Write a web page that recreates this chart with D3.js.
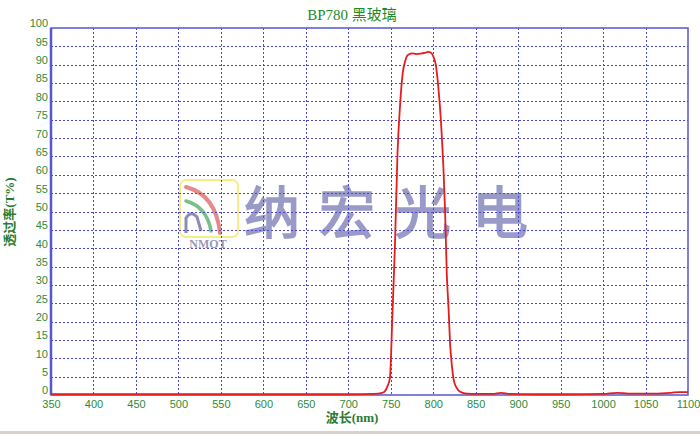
<!DOCTYPE html>
<html><head><meta charset="utf-8">
<script src="https://cdn.jsdelivr.net/npm/d3@7/dist/d3.min.js"></script>
<style>html,body{margin:0;padding:0;background:#fff;}svg{display:block;}</style>
</head><body>
<script>
const wavelengths = [350,400,450,500,550,600,650,700,730,740,743,746,749,752,755,758,761,764,767,770,775,780,785,790,794,797,800,803,806,809,812,814,816,818,820,822,824,827,830,835,840,850,870,880,890,920,960,1000,1016,1030,1060,1080,1090,1100];
const transmission = [0.2,0.2,0.2,0.2,0.2,0.2,0.2,0.2,0.3,0.6,1.0,2.3,4.6,22,41,66,79,87.5,91,92.6,93.1,92.9,93.0,93.2,93.5,93.3,92.3,90,84,75,62,50,33,24,13.6,8,4.3,2.2,1.2,0.6,0.4,0.3,0.3,0.6,0.3,0.2,0.2,0.3,0.6,0.4,0.4,0.6,0.8,0.8];
const xTicks = [350,400,450,500,550,600,650,700,750,800,850,900,950,1000,1050,1100];
const yTicks = [0,5,10,15,20,25,30,35,40,45,50,55,60,65,70,75,80,85,90,95,100];
const titleText = "BP780 黑玻璃";
const xLabel = "波长(nm)";
const yLabel = "透过率(T%)";
const wmChars = ["纳","宏","光","电"];

const W = 700, H = 434;
const m = {l:51, r:688, t:28, b:395};
const svg = d3.select("body").append("svg").attr("width", W).attr("height", H);
const x = d3.scaleLinear().domain([350,1100]).range([m.l, m.r]);
const y = d3.scaleLinear().domain([0,100]).range([m.b, m.t]);
const green = "#2f8a3a";
const blue = "#5656d2";

svg.append("rect").attr("x",0).attr("y",431).attr("width",W).attr("height",3).attr("fill","#d6d3ce");

// watermark
const wm = svg.append("g");
wm.append("rect").attr("x",180).attr("y",180).attr("width",58).attr("height",57).attr("rx",6)
  .attr("fill","none").attr("stroke","#f4ee86").attr("stroke-width",2);
wm.append("path").attr("d","M186,187 Q216,195 220,233").attr("fill","none").attr("stroke","#e58a8a").attr("stroke-width",4).attr("stroke-linecap","round");
wm.append("path").attr("d","M186,201 Q207,207 211,231").attr("fill","none").attr("stroke","#78c08a").attr("stroke-width",3.5).attr("stroke-linecap","round");
wm.append("path").attr("d","M186,233 L186,218 Q191,210 197,217 L201,231").attr("fill","none").attr("stroke","#8c8cb8").attr("stroke-width",3);
wm.append("text").attr("x",208).attr("y",248).attr("text-anchor","middle")
  .attr("font-family","Liberation Serif").attr("font-weight","bold").attr("font-size",12)
  .attr("fill","#9898b8").text("NMOT");
const wmX = [272,347,423,500];
wmChars.forEach((c,i)=>{
  wm.append("text").attr("x",wmX[i]).attr("y",233).attr("text-anchor","middle")
    .attr("font-family","Noto Sans CJK SC").attr("font-weight","normal").attr("font-size",56)
    .attr("fill","#9a9ac8").attr("stroke","#9a9ac8").attr("stroke-width",1.6).text(c);
});

// grid
const grid = svg.append("g").attr("stroke","#4848c8").attr("stroke-width",1).attr("stroke-dasharray","2,2");
xTicks.slice(1,-1).forEach(v=>{
  grid.append("line").attr("x1",Math.round(x(v))+0.5).attr("x2",Math.round(x(v))+0.5).attr("y1",m.t).attr("y2",m.b);
});
yTicks.slice(1,-1).forEach(v=>{
  grid.append("line").attr("x1",m.l).attr("x2",m.r).attr("y1",Math.round(y(v))+0.5).attr("y2",Math.round(y(v))+0.5);
});

// frame
svg.append("rect").attr("x",m.l).attr("y",m.t).attr("width",m.r-m.l).attr("height",m.b-m.t)
  .attr("fill","none").attr("stroke",blue).attr("stroke-width",1.5);
svg.append("line").attr("x1",m.l).attr("x2",m.l).attr("y1",m.t).attr("y2",m.b).attr("stroke",blue).attr("stroke-width",2.5);

// axes labels via d3 axes
const xAxis = d3.axisBottom(x).tickValues(xTicks).tickFormat(d3.format("d")).tickSize(0).tickPadding(5);
const gx = svg.append("g").attr("transform",`translate(0,${m.b})`).call(xAxis);
gx.select(".domain").remove();
gx.selectAll("text").attr("font-family","Liberation Sans").attr("font-size",11).attr("fill",green);

const yAxis = d3.axisLeft(y).tickValues(yTicks).tickFormat(d3.format("d")).tickSize(0).tickPadding(3);
const gy = svg.append("g").attr("transform",`translate(${m.l},0)`).call(yAxis);
gy.select(".domain").remove();
gy.selectAll("text").attr("font-family","Liberation Sans").attr("font-size",11).attr("fill",green).attr("dy","-0.1em");

// curve
const line = d3.line().x((d,i)=>x(wavelengths[i])).y(d=>y(d)).curve(d3.curveMonotoneX);
svg.append("path").datum(transmission).attr("d",line).attr("fill","none")
  .attr("stroke","#e41b1f").attr("stroke-width",1.8);

// title & labels
svg.append("text").attr("x",352).attr("y",20).attr("text-anchor","middle")
  .attr("font-family","Liberation Serif, Noto Sans CJK SC").attr("font-size",15).attr("fill","#1f8a2a").text(titleText);
svg.append("text").attr("x",352).attr("y",422).attr("text-anchor","middle")
  .attr("font-family","Liberation Serif, Noto Sans CJK SC").attr("font-weight","bold").attr("font-size",13).attr("fill","#2a7a30").text(xLabel);
svg.append("text").attr("transform","translate(14,212) rotate(-90)").attr("text-anchor","middle")
  .attr("font-family","Liberation Serif, Noto Sans CJK SC").attr("font-weight","bold").attr("font-size",13).attr("fill","#2a7a30").text(yLabel);
</script>
</body></html>
